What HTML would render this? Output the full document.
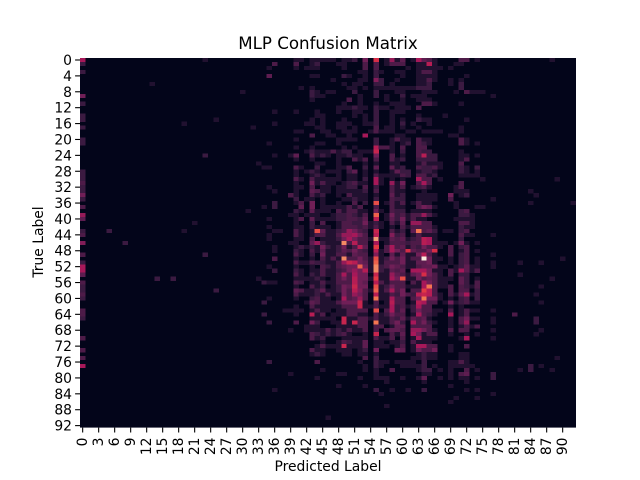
<!DOCTYPE html>
<html lang="en">
<head>
<meta charset="utf-8">
<title>MLP Confusion Matrix</title>
<style>
html,body{margin:0;padding:0;background:#fff;}
svg{display:block;}
text{font-family:"DejaVu Sans","Liberation Sans",sans-serif;fill:#000;}
</style>
</head>
<body>
<svg id="chart" width="640" height="480" viewBox="0 0 640 480" xmlns="http://www.w3.org/2000/svg">
  <text x="328" y="49" font-size="16.67" text-anchor="middle">MLP Confusion Matrix</text>
  <text x="328" y="471" font-size="13.89" text-anchor="middle">Predicted Label</text>
  <text x="0" y="0" font-size="13.89" text-anchor="middle" transform="translate(43,242) rotate(-90)">True Label</text>
  <rect id="bg" x="80" y="58" width="496" height="369.6" fill="#03051a"></rect>
  <g id="cells" shape-rendering="crispEdges"></g>
  <g id="ticks"></g>
</svg>
<script>
const categoryCount = 93;
const xTickStep = 3;
const yTickStep = 4;
const maxCount = 20;
const denseFirstColumn = 36;
// counts for predicted labels 36..75 (one row per true label); missing trailing values are 0
const denseCounts = [
[0,0,0,0,1,1,0,1,1,1,1,1,0,1,1,2,0,5,0,11,0,1,7,1,4,0,1,8,4,3,1,0,0,0,0,3,3,0,1,0],
[3,0,0,0,3,0,0,1,2,0,0,0,1,1,0,0,0,3,0,3,0,1,3,3,3,0,0,1,1,9,1,0,0,0,1,1,0,0,0,0],
[0,0,0,0,1,0,1,1,1,0,0,0,0,1,0,0,0,3,0,3,0,0,0,0,0,1,0,1,1,1,1,1,0,1],
[0,0,0,0,0,0,0,0,0,0,0,0,0,0,0,0,1,1,0,2,1,0,0,1,1,0,0,1,3,3,1],
[0,0,0,0,0,0,0,1,1,0,0,0,0,2,1,0,0,1,0,2,0,0,0,0,1,0,0,1,1,1,1,0,0,0,0,0,1],
[0,0,0,0,0,0,0,0,0,0,0,1,0,0,0,0,1,1,0,6,2,0,0,1,0,0,0,1,1,3,1,0,0,1,0,1],
[0,0,0,0,0,0,0,0,0,0,0,0,0,1,0,1,1,0,0,2,2,0,1,0,0,0,0,1,1,2,0,0,0,1,0,2],
[0,0,0,0,0,1,0,1,0,0,0,0,0,0,1,1,0,1,0,1,1,1,1,1,1,1,1,2,2,2,0,0,0,0,0,2],
[0,0,0,0,0,0,0,2,1,0,1,1,0,0,0,2,0,0,0,2,0,0,0,1,1,0,0,0,1,1,1,0,0,0,1,0,3,1,1,1],
[0,0,0,0,0,0,0,2,1,1,0,0,0,0,0,0,1,0,0,2,0,1,0,0,2,0,1,1,1,0],
[0,0,0,0,0,0,0,1,0,0,0,0,0,0,3,0,1,0,0,0,0,1,0,0,1,0,0,1,1,1,0],
[0,0,0,0,0,0,0,0,0,0,0,0,0,1,0,0,1,0,0,1,0,0,1,1,1,0,0,0,3,3,1,0,0,0,0,1],
[0,0,0,0,0,0,0,0,0,0,0,0,1,1,1,2,1,1,0,2,1,1,0,1,1,1,0,3],
[1,0,0,0,1,0,0,0,1,0,0,0,1,0,0,1,1,0,0,2,0,0,1,1,1],
[0,0,0,0,0,0,0,0,1,1,0,0,0,0,0,1,0,1,0,2,0,0,1,0,0,0,0,1,0,0,0,0,1],
[0,0,0,0,0,0,0,1,0,1,0,0,0,1,0,0,0,1,0,2,0,0,1,0,1,0,0,2,1,1,0,0,0,0,0,0,1],
[1,0,0,0,0,0,1,1,0,1,0,0,1,1,1,0,0,1,1,2,0,0,1,0,2,0,1,0,0,1],
[0,0,0,0,0,0,0,0,1,1,0,0,1,1,0,1,0,0,0,3,0,1,1,0,1,0,0,1,0,0,0,0,0,0,0,1],
[0,0,0,0,1,1,0,0,0,1,1,0,0,1,1,1,0,0,1,3,1,1,1,0,0,1,1,0,1,1,1,1,0,0,0,1],
[0,0,0,0,0,0,0,3,0,0,1,1,0,0,1,0,0,8,0,0,0,0,0,1,1,0,0,0,0,0,0,0,0,1,1],
[0,0,0,0,1,0,0,0,0,0,0,0,1,1,1,1,0,0,0,2,0,0,1,3,1,1,0,3,1,1,0,0,0,0,0,3,1],
[0,0,0,0,0,0,0,0,1,1,0,0,1,0,0,0,0,0,0,2,0,0,1,0,1,2,0,3,2,1,0,0,0,0,0,3,1,0,1],
[0,0,0,0,1,0,0,1,0,0,0,0,0,1,0,1,0,0,0,9,3,3,1,0,3,0,0,3,3,0,0,0,0,0,0,0,0],
[0,0,0,0,0,0,1,2,1,1,1,3,1,2,2,0,1,1,1,10,0,0,1,0,2,0,0,3,2,2,0,0,0,0,0,1],
[1,0,0,1,4,0,0,3,1,2,1,0,1,1,2,1,1,0,0,5,0,0,3,0,1,0,0,3,9,2,2,0,0,0,0,1,1,0,1,0],
[0,0,0,0,1,0,0,1,0,0,0,0,1,0,0,3,1,3,0,3,0,0,3,1,2,0,0,2,2,2,2,0,0,0,0,1,3],
[0,0,0,0,0,0,0,0,1,1,0,0,1,0,0,0,0,1,0,1,0,0,1,1,0,0,0,1,3,1,1,1,0,0,0,3],
[0,0,0,0,3,1,0,0,2,0,0,0,1,1,3,0,0,2,0,4,0,0,4,1,2,0,0,3,2,2,3,1,0,0,0,2,1,0,2,0],
[0,0,0,0,1,0,1,2,1,0,1,1,1,0,2,4,0,1,0,1,0,0,1,4,2,2,0,1,2,2,1,0,0,0,0,2,1,0,1,0],
[0,0,0,0,1,0,0,1,2,1,0,0,1,0,1,1,0,1,0,3,1,1,1,1,3,2,0,3,3,1,2,0,0,0,0,1,1,1,1,0],
[0,0,0,0,3,1,0,3,1,1,1,1,1,0,1,1,0,2,0,8,1,0,1,0,1,0,0,8,3,3,0,1,0,0,0,0,0,0,0,1],
[0,0,0,0,1,0,0,5,1,3,1,1,0,1,2,3,1,1,0,8,1,0,7,1,5,0,0,3,8,3,0,0,0,0,0,3],
[0,0,0,0,1,1,0,3,0,1,1,0,1,1,2,2,0,3,0,2,0,0,3,1,3,0,1,2,3,1,0,0,0,0,1,3],
[1,0,0,0,1,0,0,4,3,1,1,0,1,1,1,1,1,2,0,3,0,0,3,1,1,0,0,0,1,0,0,0,0,0,1,1,1],
[0,0,0,3,1,0,0,3,1,2,0,0,1,0,3,1,1,1,0,1,0,0,4,1,2,0,0,1,1,1,1,0,0,5,0,1,2],
[0,0,0,0,2,0,1,1,0,1,0,0,0,1,1,2,1,1,0,2,0,0,3,2,2,0,0,1,1,1,1,0,0,3],
[2,0,0,0,1,3,0,5,0,1,0,0,1,0,0,3,0,2,0,13,0,1,3,1,3,0,1,3,1,1,0,0,0,0,1],
[2,0,0,0,0,4,0,5,0,1,1,1,1,1,3,1,3,0,0,3,0,0,3,1,1,0,0,3,5,4,1,0,0,0,1,0,0,0,1,1],
[0,0,0,0,2,1,0,4,1,1,1,0,3,1,3,3,1,1,0,5,1,0,3,2,2,0,1,1,1,1,0,0,0,0,0,2,3],
[0,0,0,1,1,0,1,1,1,0,0,1,2,2,3,2,1,3,0,14,0,1,5,2,3,1,3,3,7,3,1,0,0,0,0,2,2,1],
[0,0,0,0,1,3,0,4,1,1,1,1,2,2,3,3,2,4,0,9,0,1,4,2,5,1,3,1,1,0,0,0,0,0,1,1,1,1],
[0,0,0,0,1,0,0,2,0,3,0,0,1,3,3,2,2,5,1,2,1,0,3,1,4,0,7,7,3,3,0,0,0,0,0,3,3,1],
[0,0,0,0,1,1,0,2,1,1,1,0,1,3,3,3,2,3,1,3,1,0,1,0,3,1,3,3,3,3,1,0,0,0,0,2,1,1],
[1,1,0,0,3,1,0,1,13,4,1,1,2,3,7,5,3,2,0,10,0,0,3,1,2,0,4,15,3,4,2,0,1,1,0,2,3],
[0,0,0,0,3,1,0,1,3,3,1,1,3,7,7,8,5,3,0,9,0,0,6,2,3,0,1,3,1,1,1,0,0,0,0,3,1,1],
[0,0,0,0,1,1,0,3,0,1,1,1,2,5,8,5,3,3,1,17,1,1,4,3,4,1,2,3,9,8,1,0,0,0,0,2],
[0,0,0,1,1,0,0,4,7,2,1,1,1,16,3,9,3,3,0,8,0,1,3,3,3,2,3,3,9,8,1,1,1,0,1,5,1,0,1,0],
[1,0,0,0,1,2,1,2,1,5,2,1,2,5,1,3,9,4,0,12,0,3,8,3,4,1,3,2,5,3,3,1,0,3,0,2,3],
[1,0,0,0,2,1,0,3,1,4,1,1,2,4,3,5,3,2,0,9,1,3,8,5,3,11,4,3,3,5,11,0,0,3,0,1,3,0,1,0],
[0,0,0,0,3,1,0,2,0,5,1,1,3,3,1,4,3,3,0,6,1,0,4,1,4,1,1,5,9,3,1,0,0,3,0,2,3],
[3,0,0,0,1,0,0,1,0,3,1,3,1,16,3,3,5,3,1,13,1,2,5,3,5,1,3,3,20,5,1,1,0,1,0,2,3,0,1,0],
[0,0,0,0,3,1,1,3,2,2,1,1,3,7,10,9,5,4,1,14,1,3,3,3,5,1,1,4,4,5,1,0,0,1,0,2,3,0,1,0],
[0,0,0,0,1,0,0,1,0,3,2,1,3,4,5,5,14,5,1,16,2,3,5,4,3,1,1,3,4,4,5,1,1,0,1,2,4,1,1,0],
[2,0,0,0,2,1,0,1,1,3,1,1,2,3,5,7,5,9,1,16,2,1,4,3,4,0,8,8,8,5,1,1,0,3,1,8,4,1,3,0],
[0,0,0,0,3,1,0,2,1,3,1,1,3,8,3,8,5,5,0,10,1,1,7,4,3,1,4,5,11,5,3,1,0,3,0,2,2],
[0,0,0,0,1,1,1,1,2,1,0,1,3,5,3,9,5,5,1,12,1,1,8,5,13,1,1,5,3,4,3,1,1,1,0,4,2,0,1,0],
[1,0,0,0,3,2,0,1,1,3,1,1,3,3,3,9,5,4,0,9,3,1,3,3,3,0,3,1,8,5,3,1,1,0,0,4,2,0,3,0],
[0,0,0,0,1,0,0,3,1,2,0,1,2,5,4,10,5,5,0,13,1,2,5,3,3,1,1,1,8,15,3,1,1,3,0,3,2,1,3,0],
[0,0,0,0,4,3,1,1,2,4,1,1,2,5,3,9,6,3,1,14,1,3,8,3,5,0,3,3,12,9,3,0,0,3,0,3,3,0,2,0],
[0,0,0,0,3,1,1,1,2,1,3,1,1,5,3,7,5,3,0,9,1,1,3,2,5,3,2,9,10,9,3,1,0,3,1,4,8,1,2,0],
[0,0,0,0,1,0,0,2,3,1,1,0,1,8,3,4,7,3,0,15,1,1,8,3,3,0,3,5,15,5,5,1,0,1,0,2,3,0,2,0],
[0,0,0,0,0,0,1,4,3,1,1,1,3,5,5,5,10,1,0,3,0,1,9,3,3,0,1,9,8,3,3,0,1,5,1,2,3,1,1,0],
[0,0,0,0,1,0,0,3,1,1,1,1,1,3,3,3,10,1,1,3,1,1,8,2,3,1,2,8,3,3,0,0,0,1,0,1],
[0,0,1,1,1,1,0,1,3,1,1,0,1,1,3,3,3,3,0,13,0,3,8,2,4,0,2,5,3,3,1,1,0,3,0,1,3,1,1,0],
[0,0,0,0,1,0,0,9,1,3,0,1,1,1,3,3,1,1,0,3,1,2,5,3,3,0,1,8,3,2,1,0,0,8,0,1,3],
[0,0,0,0,0,0,0,1,1,1,1,1,0,10,1,1,3,3,1,3,1,1,3,2,4,1,4,3,4,1,0,0,0,1,0,3,5,1,1,0],
[0,0,0,0,3,0,0,5,2,0,0,1,1,10,1,10,3,3,0,15,1,1,3,5,2,0,8,3,5,2,1,0,0,1,0,3,7],
[0,0,0,0,0,0,1,1,1,0,0,0,1,1,1,1,3,3,0,3,3,0,1,4,4,0,3,3,3,3,0,0,0,1,0,1,3,1,3,0],
[0,0,0,1,0,0,1,1,1,1,3,1,2,1,3,1,1,3,0,3,0,3,4,4,3,0,7,7,5,3,1,0,0,3,0,3,3],
[0,0,0,0,0,0,0,3,2,1,2,1,2,3,1,0,0,1,0,10,0,0,3,1,4,0,8,5,1,3,3,0,0,1,0,0,1,0,1,0],
[0,0,0,0,0,0,0,3,1,2,0,0,0,1,1,1,1,1,0,3,1,1,3,0,3,0,1,8,1,1,1,0,0,0,0,1,8],
[0,0,0,0,0,0,0,0,0,1,0,0,1,3,2,1,1,4,0,1,1,0,1,1,2,0,3,1,1,1],
[0,0,0,0,0,0,0,0,1,3,1,1,1,10,1,1,1,4,0,1,1,1,0,1,3,0,1,8,8,3,3,0,0,1,0,0,3],
[0,0,0,0,0,0,0,3,1,1,0,0,1,1,1,0,1,2,0,5,0,0,0,5,4,0,1,5,3,3,5,0,0,1],
[0,0,0,0,0,0,0,1,2,1,0,0,0,1,1,0,1,1,0,1,0,0,0,0,0,0,0,1,2,1,1,0,0,0,0,1,1],
[0,0,0,0,0,0,0,0,0,0,0,0,0,0,0,0,0,3,0,2,0,0,0,0,0,0,1,1,2,1,1,0,0,0,0,1,1],
[0,0,0,0,0,0,0,0,3,0,0,0,0,0,0,0,1,0,0,2,1,1,0,1,1,1,1,0,2,0,0,0,0,1,1,3,1],
[0,0,0,0,0,0,0,0,0,0,0,0,0,0,0,0,0,1,0,2,1,0,0,0,1,1,1,1,2,0,1,0,0,1,1,1,1,1],
[0,0,0,0,0,0,0,0,0,1,0,0,0,0,0,0,0,1,0,1,0,0,3,0,0,0,0,1,2,2,0,1,0,1,0,0,3,0,1],
[0,0,0,1,0,0,0,0,0,0,0,0,1,1,0,0,0,0,0,1,0,0,0,0,0,0,0,0,1,1,0,0,0,1,0,3,4],
[0,0,0,0,0,0,0,0,1,0,0,0,0,0,0,0,1,0,0,1,1,1,0,0,1,0,0,1,4,0,0,1,0,1,0,1,1,0,1],
[0,0,0,0,0,0,0,0,0,0,0,0,0,0,0,0,0,0,0,0,0,1,0,0,0,0,0,0,1,0,0,0,0,0,0,0,1],
[0,0,0,0,0,0,0,0,0,0,0,0,1,0,0,0,0,1,0,0,0,0,0,0,0,0,0,0,0,0,0,0,0,1],
[1,0,0,0,0,0,0,0,0,0,0,0,0,0,0,0,0,0,0,2,0,0,1,0,0,1,0,0,2,0,0,0,0,0,0,0,1,0,1],
[0,0,0,0,0,0,0,0,0,0,0,0,0,0,0,0,0,0,0,0,1],
[0,0,0,0,0,0,0,0,0,0,0,0,0,0,0,0,0,0,0,0,0,0,0,0,0,0,0,0,0,0,0,0,0,0,1,0,0,0,1],
[0,0,0,0,0,0,0,0,0,0,0,0,0,0,0,0,0,0,0,0,0,0,0,0,0,0,0,0,0,0,0,0,0,1],
[0,0,0,0,0,0,0,0,0,0,0,0,0,0,0,0,0,0,0,0,0,1],
[],
[],
[0,0,0,0,0,0,0,0,0,0,1],
[]
];
// counts for predicted label 0, indexed by true label
const firstColumnCounts = [8,2,0,2,0,0,0,0,0,5,0,2,0,0,2,2,0,2,0,0,2,2,0,0,0,0,0,0,2,2,2,3,2,2,5,2,0,3,0,7,4,0,0,2,3,0,6,0,0,3,0,2,8,8,4,0,3,2,2,3,2,0,0,3,3,2,0,0,0,0,3,0,0,3,0,3,0,8];
// isolated cells away from the main band
const isolatedTrue = [0,6,8,16,15,17,24,2,4,26,27,27,21,38,37,40,41,43,43,42,44,45,46,49,55,55,55,56,58,61,64,52,60,66,76,32,55,56,0,9,30,33,34,35,36,36,44,49,51,52,51,51,50,54,55,57,59,61,63,64,65,66,65,66,68,68,69,70,75,77,78,77,78,78,79,80,84];
const isolatedPredicted = [23,13,30,19,25,32,23,35,35,33,34,35,35,31,34,35,21,5,19,35,35,35,8,23,14,17,33,34,25,34,34,35,35,35,35,35,33,35,88,77,89,84,85,77,84,92,77,77,77,77,82,86,90,82,88,86,85,86,77,81,77,77,85,85,77,86,85,77,89,84,84,86,82,88,77,77,77];
const isolatedCounts = [1,1,1,1,1,1,2,1,4,1,1,1,1,1,1,1,1,2,1,1,1,1,2,2,2,2,2,2,2,2,2,1,1,2,2,1,1,1,1,1,1,1,1,1,1,1,1,1,1,1,1,1,1,1,1,1,1,1,1,3,1,1,2,2,1,1,1,1,1,2,2,1,1,1,2,2,1];

const plotLeft = 80, plotTop = 58, plotWidth = 496, plotHeight = 369.6;
const rocketStops = [[0,3,5,26],[0.083,53,25,62],[0.25,112,31,87],[0.417,173,23,89],[0.583,225,51,66],[0.75,243,118,81],[0.917,246,180,143],[1,250,235,221]];
const svgNS = 'http://www.w3.org/2000/svg';
function xScale(c){return plotLeft + c*plotWidth/categoryCount;}
function yScale(r){return plotTop + r*plotHeight/categoryCount;}
function colorFor(v){
  const t = Math.min(1, Math.max(0, v/maxCount));
  for(let i=1;i<rocketStops.length;i++){
    const a = rocketStops[i-1], b = rocketStops[i];
    if(t<=b[0]){
      const f = (t-a[0])/(b[0]-a[0]);
      return 'rgb('+[1,2,3].map(function(k){return Math.round(a[k]+(b[k]-a[k])*f);}).join(',')+')';
    }
  }
  return '#faebdd';
}
const cellsLayer = document.getElementById('cells');
function addCell(r,c,v){
  if(!v) return;
  const el = document.createElementNS(svgNS,'rect');
  
  
  el.setAttribute('x', xScale(c));
  el.setAttribute('y', yScale(r));
  el.setAttribute('width', plotWidth/categoryCount+0.2);
  el.setAttribute('height', plotHeight/categoryCount+0.2);
  el.setAttribute('fill', colorFor(v));
  cellsLayer.appendChild(el);
}
denseCounts.forEach(function(row,r){
  row.forEach(function(v,i){addCell(r,denseFirstColumn+i,v);});
});
firstColumnCounts.forEach(function(v,r){addCell(r,0,v);});
isolatedCounts.forEach(function(v,i){addCell(isolatedTrue[i],isolatedPredicted[i],v);});

const ticksLayer = document.getElementById('ticks');
function addLine(x1,y1,x2,y2,name){
  const el = document.createElementNS(svgNS,'line');
  
  
  el.setAttribute('x1', x1);
  el.setAttribute('y1', y1);
  el.setAttribute('x2', x2);
  el.setAttribute('y2', y2);
  el.setAttribute('stroke', '#000');
  el.setAttribute('stroke-width', '1.1');
  ticksLayer.appendChild(el);
}
for(let c=0;c<categoryCount;c+=xTickStep){
  const x = xScale(c+0.5);
  addLine(x,plotTop+plotHeight,x,plotTop+plotHeight+4.9,'x-tick');
  const t = document.createElementNS(svgNS,'text');
  
  
  t.setAttribute('font-size', '13.89');
  t.setAttribute('text-anchor', 'end');
  t.setAttribute('transform', 'translate('+(x+4.5)+',437.5) rotate(-90)');
  t.textContent = c;
  ticksLayer.appendChild(t);
}
for(let r=0;r<categoryCount;r+=yTickStep){
  const y = yScale(r+0.5);
  addLine(plotLeft-4.9,y,plotLeft,y,'y-tick');
  const t = document.createElementNS(svgNS,'text');
  
  
  t.setAttribute('font-size', '13.89');
  t.setAttribute('text-anchor', 'end');
  t.setAttribute('x', 72);
  t.setAttribute('y', y+5);
  t.textContent = r;
  ticksLayer.appendChild(t);
}
</script>
</body>
</html>
